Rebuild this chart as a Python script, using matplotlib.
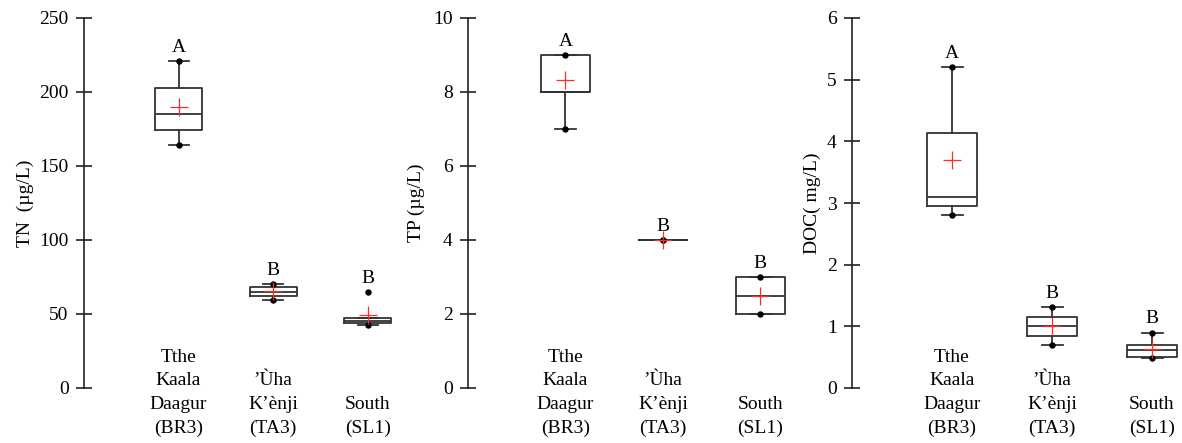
import numpy as np
import matplotlib
matplotlib.use("Agg")
import matplotlib.pyplot as plt

plt.rcParams['font.family'] = ['Liberation Serif', 'DejaVu Serif']
plt.rcParams['font.size'] = 14

# site names (shared by all three panels)
sites = ["Tthe\nKaala\nDaagur\n(BR3)", "\u2019\u00d9ha\nK\u2019\u00e8nji\n(TA3)", "South\n(SL1)"]

# TN (ug/L)
tn_min = [164, 59.7, 42.4]
tn_q1 = [174.5, 62.5, 44.0]
tn_med = [185, 65, 45.5]
tn_q3 = [202.5, 68, 47.5]
tn_max = [221, 70.5, 65]
tn_whishi = [221, 70.5, 47.5]
tn_mean = [190, 65.5, 49.3]
tn_letters = ["A", "B", "B"]

# TP (ug/L)
tp_min = [7, 4, 2]
tp_q1 = [8, 4, 2]
tp_med = [8, 4, 2.5]
tp_q3 = [9, 4, 3]
tp_max = [9, 4, 3]
tp_whishi = [9, 4, 3]
tp_mean = [8.33, 4, 2.5]
tp_letters = ["A", "B", "B"]

# DOC (mg/L)
doc_min = [2.8, 0.69, 0.49]
doc_q1 = [2.95, 0.84, 0.5]
doc_med = [3.1, 1.0, 0.61]
doc_q3 = [4.14, 1.15, 0.69]
doc_max = [5.2, 1.31, 0.9]
doc_whishi = [5.2, 1.31, 0.9]
doc_mean = [3.69, 1.0, 0.64]
doc_letters = ["A", "B", "B"]

panels = [
    dict(mn=tn_min, q1=tn_q1, med=tn_med, q3=tn_q3, mx=tn_max, hi=tn_whishi, mean=tn_mean,
         letters=tn_letters, ylabel="TN  (\u00b5g/L)", ylim=250, step=50,
         rect=[84/1182, 55/443, 331/1182, 370/443], xmax=3.5, lab_x=-0.151),
    dict(mn=tp_min, q1=tp_q1, med=tp_med, q3=tp_q3, mx=tp_max, hi=tp_whishi, mean=tp_mean,
         letters=tp_letters, ylabel="TP (\u00b5g/L)", ylim=10, step=2,
         rect=[468/1182, 55/443, 341/1182, 370/443], xmax=3.5, lab_x=-0.126),
    dict(mn=doc_min, q1=doc_q1, med=doc_med, q3=doc_q3, mx=doc_max, hi=doc_whishi, mean=doc_mean,
         letters=doc_letters, ylabel="DOC( mg/L)", ylim=6, step=1,
         rect=[852/1182, 55/443, 330/1182, 370/443], xmax=3.3, lab_x=-0.094),
]

fig = plt.figure(figsize=(11.82, 4.43), dpi=100)
edge = '#333333'
pos = [1, 2, 3]

for p in panels:
    ax = fig.add_axes(p['rect'])
    stats = []
    for i in range(3):
        stats.append(dict(whislo=p['mn'][i], q1=p['q1'][i], med=p['med'][i],
                          q3=p['q3'][i], whishi=p['hi'][i], fliers=[]))
    ax.bxp(stats, positions=pos, widths=0.5, capwidths=0.21, showfliers=False,
           boxprops=dict(color=edge, linewidth=1.3),
           medianprops=dict(color=edge, linewidth=1.3),
           whiskerprops=dict(color=edge, linewidth=1.3),
           capprops=dict(color=edge, linewidth=1.3))
    # min / max points
    ax.plot(pos, p['mn'], 'o', color='black', markersize=3.6, zorder=4)
    ax.plot(pos, p['mx'], 'o', color='black', markersize=3.6, zorder=4)
    # means
    ax.plot(pos, p['mean'], '+', color='#ff2a2a', markersize=13, markeredgewidth=0.9, zorder=5)
    for i in range(3):
        ax.annotate(p['letters'][i], (pos[i], p['mx'][i]), xytext=(0, 6.5),
                    textcoords='offset points', ha='center', va='baseline')
        ax.annotate(sites[i], (pos[i], -0.132), xycoords=('data', 'axes fraction'),
                    ha='center', va='bottom', multialignment='center',
                    linespacing=1.5, annotation_clip=False)

    ax.set_xlim(0, p['xmax'])
    ax.set_ylim(0, p['ylim'])
    ax.set_yticks(np.arange(0, p['ylim'] + p['step'] / 2, p['step']))
    ax.set_xticks([])
    for s in ['top', 'right', 'bottom']:
        ax.spines[s].set_visible(False)
    ax.spines['left'].set_color('#222222')
    ax.spines['left'].set_linewidth(1.2)
    ax.tick_params(axis='y', direction='inout', length=12, width=1.2, color='#222222', pad=5)
    ax.set_ylabel(p['ylabel'])
    ax.yaxis.set_label_coords(p['lab_x'], 0.5)
    ax.patch.set_alpha(0)

fig.savefig("out.png", dpi=100)
